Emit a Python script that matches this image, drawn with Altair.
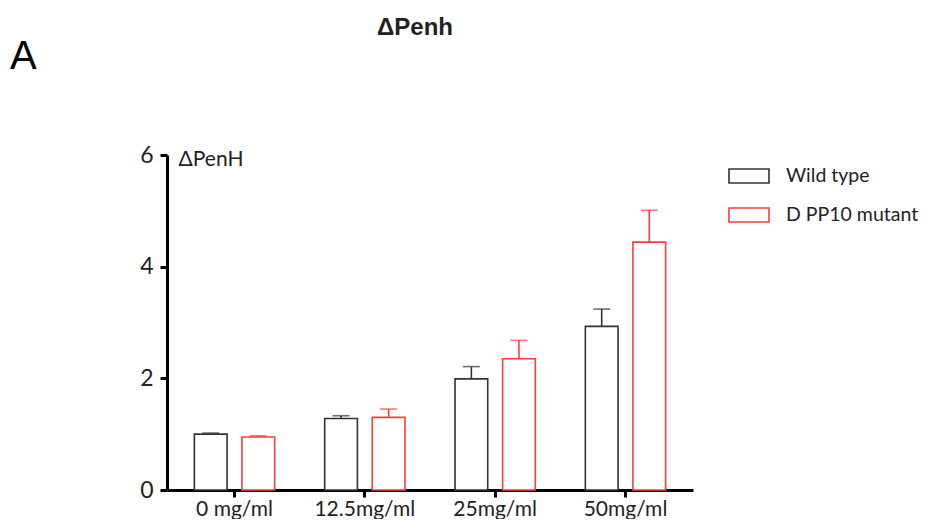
import altair as alt
import pandas as pd

categories = ["0 mg/ml", "12.5mg/ml", "25mg/ml", "50mg/ml"]
groups = ["Wild type", "D PP10 mutant"]
wt_means = [1.00, 1.28, 1.99, 2.93]
wt_errs = [0.02, 0.05, 0.22, 0.31]
mut_means = [0.95, 1.30, 2.35, 4.44]
mut_errs = [0.02, 0.15, 0.33, 0.57]
colors = ["#333333", "#ff3b3b"]

rows = []
for i, c in enumerate(categories):
    rows.append({"dose": c, "group": groups[0], "mean": wt_means[i], "upper": wt_means[i] + wt_errs[i]})
    rows.append({"dose": c, "group": groups[1], "mean": mut_means[i], "upper": mut_means[i] + mut_errs[i]})
df = pd.DataFrame(rows)

FONT = "Lato"

x_enc = alt.X("dose:N", sort=categories,
              scale=alt.Scale(paddingInner=0.384, paddingOuter=0.21),
              axis=alt.Axis(title=None, labelAngle=0, labelFontSize=21, labelFont=FONT,
                            labelColor="#222222", domainWidth=3, domainColor="black",
                            tickWidth=3, tickSize=7, tickColor="black", labelPadding=1))
xo_enc = alt.XOffset("group:N", sort=groups,
                     scale=alt.Scale(paddingInner=0.3125, paddingOuter=0))
stroke_scale = alt.Scale(domain=groups, range=colors)

base = alt.Chart(df)

bars = base.mark_bar(fill="white", strokeWidth=1.6).encode(
    x=x_enc,
    xOffset=xo_enc,
    y=alt.Y("mean:Q", scale=alt.Scale(domain=[0, 6], nice=False),
            axis=alt.Axis(values=[0, 2, 4, 6], format="d", title="ΔPenH", titleAngle=0,
                          titleAlign="left", titleBaseline="middle", titleX=11, titleY=4,
                          titleFontSize=21, titleFontWeight="normal", titleFont=FONT,
                          titleColor="#222222",
                          labelFontSize=23, labelFont=FONT, labelColor="#222222",
                          domainWidth=3, domainColor="black", tickWidth=3, tickSize=7,
                          tickColor="black", grid=False, labelPadding=7)),
    stroke=alt.Stroke("group:N", sort=groups, scale=stroke_scale,
                      legend=alt.Legend(title=None, orient="none", legendX=561, legendY=0,
                                        symbolType="M-1,-0.35H1V0.35H-1Z", symbolSize=1600,
                                        symbolStrokeWidth=1.6, symbolFillColor="white",
                                        labelFontSize=19.5, labelFont=FONT, labelColor="#222222",
                                        labelOffset=16, rowPadding=7)),
)

rules = base.mark_rule(strokeWidth=1.6).encode(
    x=alt.X("dose:N", sort=categories),
    xOffset=alt.XOffset("group:N", sort=groups),
    y="mean:Q",
    y2="upper:Q",
    stroke=alt.Stroke("group:N", sort=groups, scale=stroke_scale, legend=None),
)

caps_layers = []
for g, col in zip(groups, colors):
    caps_layers.append(
        base.transform_filter(alt.datum.group == g).mark_tick(thickness=1.6, size=17, color=col).encode(
            x=alt.X("dose:N", sort=categories),
            xOffset=alt.XOffset("group:N", sort=groups),
            y="upper:Q",
        )
    )

label_df = pd.DataFrame({"t": ["A"]})
panel = alt.Chart(label_df).mark_text(font="Liberation Sans", fontSize=40, align="left",
                                      baseline="middle", color="black").encode(
    text="t:N", x=alt.value(-157), y=alt.value(-98))

chart = alt.layer(bars, rules, *caps_layers, panel).properties(
    width=526, height=335,
    title=alt.TitleParams("ΔPenh", fontSize=24, font="Liberation Sans", fontWeight="bold",
                          color="#222222", anchor="middle", frame="group", offset=-3, dx=-15),
    autosize=alt.AutoSizeParams(type="none"),
    padding={"left": 159, "top": 147, "right": 228, "bottom": 29},
).configure_view(stroke=None)

chart.save("out.html", embed_options={"renderer": "svg", "actions": False})
